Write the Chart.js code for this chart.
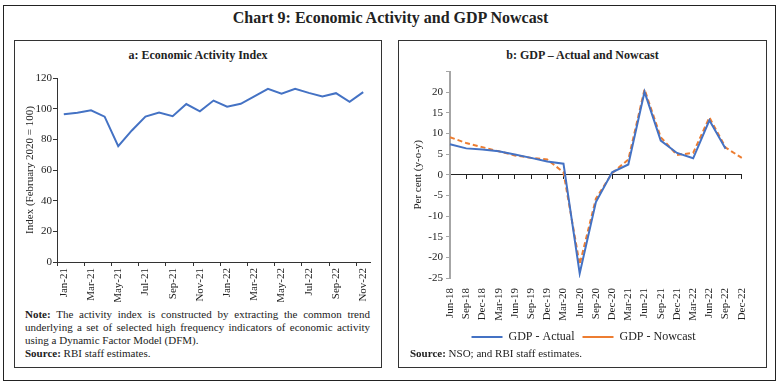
<!DOCTYPE html>
<html>
<head>
<meta charset="utf-8">
<script src="https://cdn.jsdelivr.net/npm/chart.js@4.4.1/dist/chart.umd.min.js"></script>
<style>
  body { margin: 0; background: #fff; width: 781px; height: 385px; position: relative; overflow: hidden;
         font-family: "Liberation Serif", serif; color: #222; }
  .frame { position: absolute; left: 3px; top: 5px; width: 771px; height: 374px; border: 1px solid #222; }
  .title { position: absolute; left: 0; top: 9px; width: 781px; text-align: center; font-weight: bold;
           font-size: 16px; line-height: 18px; }
  .panel { position: absolute; top: 40px; height: 326px; border: 1px solid #333; }
  .sub { position: absolute; top: 47px; text-align: center; font-weight: bold; font-size: 12px; line-height: 16px; }
  canvas { position: absolute; }
  .note { position: absolute; font-size: 11px; line-height: 13px; }
  .note div { white-space: nowrap; }
  .just { text-align: justify; text-align-last: justify; }
</style>
</head>
<body>
<div class="frame"></div>
<div class="title">Chart 9: Economic Activity and GDP Nowcast</div>

<div class="panel" style="left:14px; width:366px;"></div>
<div class="sub" style="left:14px; width:368px;">a: Economic Activity Index</div>
<canvas id="activityChart" width="366" height="240" style="left:15px; top:62px;"></canvas>
<div class="note" style="left:25px; top:308px; width:345px;">
  <div class="just"><b>Note:</b> The activity index is constructed by extracting the common trend</div>
  <div class="just">underlying a set of selected high frequency indicators of economic activity</div>
  <div>using a Dynamic Factor Model (DFM).</div>
  <div><b>Source:</b> RBI staff estimates.</div>
</div>

<div class="panel" style="left:398px; width:367px;"></div>
<div class="sub" style="left:398px; width:369px;">b: GDP – Actual and Nowcast</div>
<canvas id="gdpChart" width="366" height="291" style="left:399px; top:62px;"></canvas>
<div class="note" style="left:410px; top:347px;">
  <div><b>Source:</b> NSO; and RBI staff estimates.</div>
</div>

<script>
// Panel a: monthly activity index
const months = ["Jan-21","Feb-21","Mar-21","Apr-21","May-21","Jun-21","Jul-21","Aug-21","Sep-21","Oct-21","Nov-21","Dec-21",
                "Jan-22","Feb-22","Mar-22","Apr-22","May-22","Jun-22","Jul-22","Aug-22","Sep-22","Oct-22","Nov-22"];
const activityIndex = [96.3, 97.4, 98.9, 94.8, 75.5, 85.8, 94.8, 97.4, 95.1, 103.0, 98.3, 105.3,
                       101.3, 103.2, 108.0, 112.9, 109.7, 112.9, 110.3, 108.0, 110.1, 104.5, 110.8];
const indexTicks = [0, 20, 40, 60, 80, 100, 120];

// Panel b: quarterly GDP growth, y-o-y per cent
const quarters = ["Jun-18","Sep-18","Dec-18","Mar-19","Jun-19","Sep-19","Dec-19","Mar-20","Jun-20","Sep-20",
                  "Dec-20","Mar-21","Jun-21","Sep-21","Dec-21","Mar-22","Jun-22","Sep-22","Dec-22"];
const gdpActual = [7.4, 6.4, 6.1, 5.7, 4.9, 4.1, 3.2, 2.7, -23.9, -6.6, 0.6, 2.5, 20.1, 8.3, 5.3, 4.0, 13.2, 6.3, null];
const gdpNowcast = [9.1, 7.7, 6.7, 5.7, 4.7, 4.1, 3.7, 0.6, -21.7, -5.8, 0.4, 3.7, 20.7, 9.1, 4.8, 5.3, 13.9, 6.6, 4.1];
const gdpTicks = [-25, -20, -15, -10, -5, 0, 5, 10, 15, 20, 25];

const BLUE = "#4472C4";
const ORANGE = "#ED7D31";

Chart.defaults.font.family = "'Liberation Serif', serif";
Chart.defaults.font.size = 11;
Chart.defaults.color = "#222";
Chart.defaults.animation = false;

document.addEventListener("DOMContentLoaded", () => {
    new Chart(document.getElementById("activityChart"), {
        type: "line",
        data: {
            labels: months,
            datasets: [{
                label: "Economic Activity Index",
                data: activityIndex,
                borderColor: BLUE,
                borderWidth: 2,
                pointRadius: 0,
                tension: 0
            }]
        },
        options: {
            responsive: false,
            layout: { padding: { left: 0, right: 11, top: 16, bottom: 0 } },
            scales: {
                x: {
                    offset: true,
                    grid: {
                        offset: true,
                        drawOnChartArea: false,
                        tickLength: 4,
                        tickColor: ctx => ctx.index % 2 === 0 ? "#333" : "rgba(0,0,0,0)"
                    },
                    border: { color: "#333", width: 1 },
                    ticks: {
                        autoSkip: false,
                        maxRotation: 90,
                        minRotation: 90,
                        padding: 2,
                        callback: (value, i) => i % 2 === 0 ? months[i] : ""
                    },
                    afterFit: scale => { scale.height = 40; }
                },
                y: {
                    min: indexTicks[0],
                    max: indexTicks[indexTicks.length - 1],
                    afterBuildTicks: scale => { scale.ticks = indexTicks.map(v => ({ value: v })); },
                    grid: { drawOnChartArea: false, tickLength: 4, color: "#333" },
                    border: { color: "#333", width: 1 },
                    ticks: { padding: 1 },
                    title: {
                        display: true,
                        text: "Index (February 2020 = 100)",
                        padding: { top: 9, bottom: 0 }
                    },
                    afterFit: scale => { scale.width = 42; }
                }
            },
            plugins: { legend: { display: false }, tooltip: { enabled: false } }
        }
    });

    new Chart(document.getElementById("gdpChart"), {
        type: "line",
        data: {
            labels: quarters,
            datasets: [{
                label: "GDP - Actual",
                data: gdpActual,
                borderColor: BLUE,
                backgroundColor: BLUE,
                borderWidth: 2,
                pointRadius: 0,
                tension: 0
            }, {
                label: "GDP - Nowcast",
                data: gdpNowcast,
                borderColor: ORANGE,
                backgroundColor: ORANGE,
                borderWidth: 2,
                borderDash: [5, 3],
                pointRadius: 0,
                tension: 0
            }]
        },
        options: {
            responsive: false,
            layout: { padding: { left: 12, right: 9, top: 8, bottom: 0 } },
            scales: {
                x: {
                    position: { y: 0 },
                    offset: false,
                    grid: { drawOnChartArea: false, tickLength: 4, color: "#222" },
                    border: { color: "#222", width: 1 },
                    ticks: { display: false, autoSkip: false }
                },
                x2: {
                    axis: "x",
                    type: "category",
                    labels: quarters,
                    position: "bottom",
                    offset: false,
                    grid: { display: false, drawTicks: false },
                    border: { display: false },
                    ticks: { autoSkip: false, maxRotation: 90, minRotation: 90, padding: 10 },
                    afterFit: scale => { scale.height = 45; }
                },
                y: {
                    min: gdpTicks[0],
                    max: gdpTicks[gdpTicks.length - 1],
                    afterBuildTicks: scale => { scale.ticks = gdpTicks.map(v => ({ value: v })); },
                    grid: { drawOnChartArea: false, tickLength: 4, color: "#a6a6a6" },
                    border: { color: "#a6a6a6", width: 2 },
                    ticks: {
                        padding: 3,
                        callback: value => value === 25 ? "" : value
                    },
                    title: {
                        display: true,
                        text: "Per cent (y-o-y)",
                        padding: { top: 1, bottom: 0 }
                    },
                    afterFit: scale => { scale.width = 39; }
                }
            },
            plugins: {
                legend: {
                    position: "bottom",
                    labels: {
                        usePointStyle: true,
                        pointStyle: "line",
                        pointStyleWidth: 31,
                        boxHeight: 11,
                        padding: 8,
                        color: "#222",
                        font: { size: 12 }
                    }
                },
                tooltip: { enabled: false }
            }
        }
    });
});
</script>
</body>
</html>
